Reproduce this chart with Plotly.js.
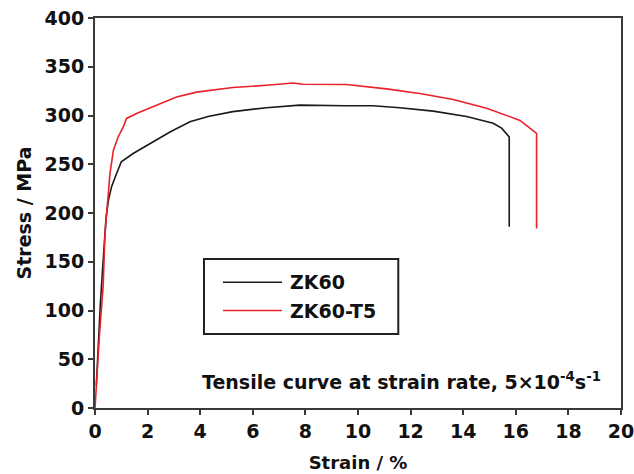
<!DOCTYPE html>
<html>
<head>
<meta charset="utf-8">
<script src="https://cdn.plot.ly/plotly-3.0.1.min.js"></script>
<style>html,body{margin:0;padding:0;background:#fff;}#chart{width:634px;height:474px;}</style>
</head>
<body>
<div id="chart"></div>
<script>
var zk60Strain = [0.05, 0.08, 0.1, 0.15, 0.2, 0.27, 0.35, 0.42, 0.51, 0.63, 0.82, 1.0, 1.45, 2.09, 2.85, 3.61, 4.3, 5.24, 6.52, 7.78, 8.54, 9.5, 10.57, 11.59, 12.86, 14.13, 15.14, 15.46, 15.75, 15.75];
var zk60Stress = [23, 40, 55, 80, 105, 135, 165, 195, 213, 227, 240.6, 252.5, 261, 271, 283, 293.5, 299, 304, 308, 310.6, 310, 310, 310, 308, 304.5, 299, 292, 287, 278, 186];
var t5Strain = [0, 0.05, 0.11, 0.17, 0.24, 0.31, 0.38, 0.45, 0.57, 0.70, 0.88, 1.07, 1.20, 1.58, 2.34, 3.10, 3.86, 5.24, 6.52, 7.53, 7.91, 8.54, 9.56, 11.08, 12.35, 13.62, 14.89, 16.16, 16.79, 16.79];
var t5Stress = [0, 25, 50, 75, 100, 125, 179, 205, 240.6, 264.5, 278, 288, 297, 302, 310.6, 319, 324, 328.7, 331, 333.4, 332, 332, 331.8, 327.3, 322.6, 316.4, 307.5, 295, 281.6, 184];
var seriesNames = ["ZK60", "ZK60-T5"];
var xTicks = [0, 2, 4, 6, 8, 10, 12, 14, 16, 18, 20];
var yTicks = [0, 50, 100, 150, 200, 250, 300, 350, 400];
var colors = ["#1a1a1a", "#e8212b"];

var FONT = "DejaVu Sans, sans-serif";
var traces = [
  {x: zk60Strain, y: zk60Stress, name: seriesNames[0], mode: "lines", line: {color: colors[0], width: 1.6}, showlegend: false},
  {x: t5Strain, y: t5Stress, name: seriesNames[1], mode: "lines", line: {color: colors[1], width: 1.6}, showlegend: false}
];
var axisCommon = {
  showgrid: false, zeroline: false, showline: true, linecolor: "#3a3a3a", linewidth: 2,
  mirror: true, ticks: "outside", ticklen: 5, tickwidth: 2, tickcolor: "#3a3a3a",
  tickfont: {family: FONT, size: 19, color: "#111", weight: "bold"}, ticklabeloverflow: "allow"
};
var titleFont = {family: FONT, size: 18, weight: "bold", color: "#111"};
var legLeft = 0.2072, legRight = 0.5766, legBottom = 0.190, legTop = 0.382;
var lineX0 = 0.2433, lineX1 = 0.3555, rowY = [0.3226, 0.2499], textX = 0.3669;
var shapes = [{type: "rect", xref: "paper", yref: "paper", x0: legLeft, x1: legRight, y0: legBottom, y1: legTop,
  line: {color: "#222", width: 2}, fillcolor: "#fff"}];
var annotations = [];
seriesNames.forEach(function (n, i) {
  shapes.push({type: "line", xref: "paper", yref: "paper", x0: lineX0, x1: lineX1, y0: rowY[i], y1: rowY[i],
    line: {color: colors[i], width: 1.6}});
  annotations.push({xref: "paper", yref: "paper", x: textX, y: rowY[i], xanchor: "left", yanchor: "middle",
    showarrow: false, text: n, font: {family: FONT, size: 19, weight: "bold", color: "#111"}});
});
annotations.push({
  xref: "paper", yref: "paper", x: 0.965, y: 0.068, xanchor: "right", yanchor: "middle", showarrow: false,
  text: "Tensile curve at strain rate, 5×10<sup>-4</sup>s<sup>-1</sup>",
  font: {family: FONT, size: 19, weight: "bold", color: "#111"}
});
var layout = {
  width: 634, height: 474,
  margin: {l: 95, r: 13, t: 18, b: 66},
  paper_bgcolor: "#fff", plot_bgcolor: "#fff",
  font: {family: FONT, color: "#111"},
  xaxis: Object.assign({}, axisCommon, {range: [0, 20], tickvals: xTicks, ticktext: xTicks.map(String),
    title: {text: "Strain / %", font: titleFont, standoff: 16}}),
  yaxis: Object.assign({}, axisCommon, {range: [0, 400], tickvals: yTicks, ticktext: yTicks.map(String),
    title: {text: "Stress / MPa", font: {family: FONT, size: 19, weight: "bold", color: "#111"}, standoff: 8}}),
  showlegend: false,
  shapes: shapes,
  annotations: annotations
};
Plotly.newPlot("chart", traces, layout, {displayModeBar: false, staticPlot: true});
</script>
</body>
</html>
